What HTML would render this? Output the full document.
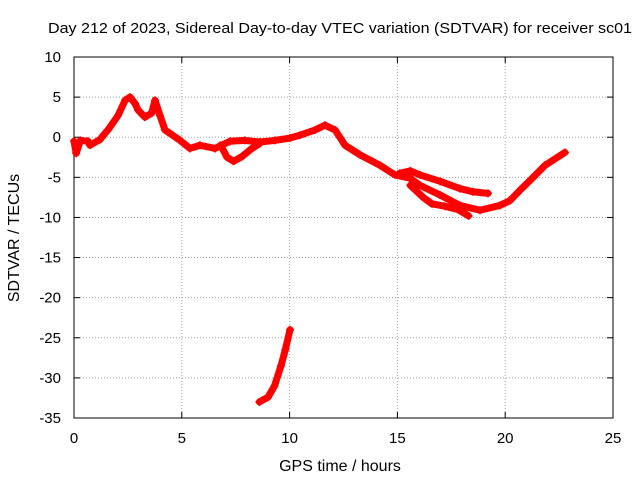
<!DOCTYPE html>
<html><head><meta charset="utf-8"><style>
body{margin:0;background:#fff;}
svg{display:block;font-family:"Liberation Sans",sans-serif;}
</style></head><body>
<svg id="chart" width="640" height="480">
<rect width="640" height="480" fill="#fff"/>
</svg>
<script>
const xTicks=[0,5,10,15,20,25];
const yTicks=[10,5,0,-5,-10,-15,-20,-25,-30,-35];
const mainHours=[0,0.1,0.3,0.65,0.74,1.2,1.6,2.04,2.37,2.6,2.83,2.97,3.29,3.6,3.76,3.99,4.22,4.92,5.38,5.84,6.54,7.24,7.93,8.63,9.32,10.02,10.48,11.18,11.64,12.11,12.57,13.27,14.19,14.89,15.58,16.05,16.98,17.9,18.83,19.76,20.22,20.69,21.15,21.85,22.77];
const mainValues=[-0.5,-2,-0.4,-0.5,-1,-0.3,1,2.7,4.6,5,4.2,3.4,2.5,3,4.6,2.7,0.9,-0.4,-1.4,-1,-1.4,-0.5,-0.4,-0.6,-0.4,-0.1,0.25,0.9,1.5,0.9,-1,-2.2,-3.5,-4.7,-5.1,-6,-7.2,-8.5,-9.1,-8.5,-7.9,-6.6,-5.4,-3.5,-1.9];
const branch2Hours=[15.1,15.6,16.05,16.98,17.9,18.5,19.2];
const branch2Values=[-4.5,-4.2,-4.7,-5.5,-6.4,-6.8,-7];
const branch3Hours=[15.6,16.2,16.6,17.2,17.8,18.3];
const branch3Values=[-6,-7.5,-8.3,-8.6,-9,-9.8];
const dipHours=[6.8,7.1,7.4,7.8,8.2,8.6];
const dipValues=[-1,-2.5,-3,-2.4,-1.5,-0.8];
const lowHours=[8.6,9.0,9.3,9.6,9.8,10.02];
const lowValues=[-33,-32.4,-31,-28.5,-26.5,-24];

const X0=74,X1=613,Y0=57,Y1=418;
const xS=h=>X0+(h-0)/25*(X1-X0);
const yS=v=>Y1-(v+35)/45*(Y1-Y0);
const svg=document.getElementById('chart');
const NS='http://www.w3.org/2000/svg';
function mk(tag,attrs,parent){const e=document.createElementNS(NS,tag);for(const k in attrs)e.setAttribute(k,attrs[k]);(parent||svg).appendChild(e);return e;}

xTicks.forEach(t=>{
  const x=xS(t);
  if(t>0&&t<25){const g=mk('line',{x1:x,x2:x,y1:Y0,y2:Y1,stroke:'#a0a0a0','stroke-dasharray':'1,2'});
  
  }
  mk('line',{x1:x,x2:x,y1:Y1,y2:Y1-6,stroke:'#000'});mk('line',{x1:x,x2:x,y1:Y0,y2:Y0+6,stroke:'#000'});
  const l=mk('text',{x:x,y:Y1+25,'text-anchor':'middle','font-size':15});l.textContent=t;
  
  
});
yTicks.forEach(t=>{
  const y=yS(t);
  if(t<10&&t>-35){const g=mk('line',{x1:X0,x2:X1,y1:y,y2:y,stroke:'#a0a0a0','stroke-dasharray':'1,2'});
  
  }
  mk('line',{x1:X0,x2:X0+6,y1:y,y2:y,stroke:'#000'});mk('line',{x1:X1,x2:X1-6,y1:y,y2:y,stroke:'#000'});
  const l=mk('text',{x:X0-13,y:y+5,'text-anchor':'end','font-size':15});l.textContent=t;
  
  
});
const border=mk('rect',{x:X0,y:Y0,width:X1-X0,height:Y1-Y0,fill:'none',stroke:'#000'});



function series(hs,vs,name){
  const pts=hs.map((h,i)=>xS(h)+','+yS(vs[i])).join(' ');
  const p=mk('polyline',{points:pts,fill:'none',stroke:'#ff0000','stroke-width':7,'stroke-linejoin':'round','stroke-linecap':'round'});
  
  
  hs.forEach((h,i)=>{const x=xS(h),y=yS(vs[i]);
    mk('path',{d:`M${x-4},${y}h8M${x},${y-4}v8`,stroke:'#ff0000','stroke-width':1.5});});
}
series(mainHours,mainValues,'main-series');
series(branch2Hours,branch2Values,'branch-series-2');
series(branch3Hours,branch3Values,'branch-series-3');
series(dipHours,dipValues,'dip-series');
series(lowHours,lowValues,'low-series');

const title=mk('text',{x:48,y:33,'font-size':15,textLength:584,lengthAdjust:'spacingAndGlyphs'});
title.textContent='Day 212 of 2023, Sidereal Day-to-day VTEC variation (SDTVAR) for receiver sc01';


const xt=mk('text',{x:340,y:471,'text-anchor':'middle','font-size':16});
xt.textContent='GPS time / hours';


const yt=mk('text',{x:19,y:238,'text-anchor':'middle','font-size':16,transform:'rotate(-90 19 238)'});
yt.textContent='SDTVAR / TECUs';


</script>
</body></html>
